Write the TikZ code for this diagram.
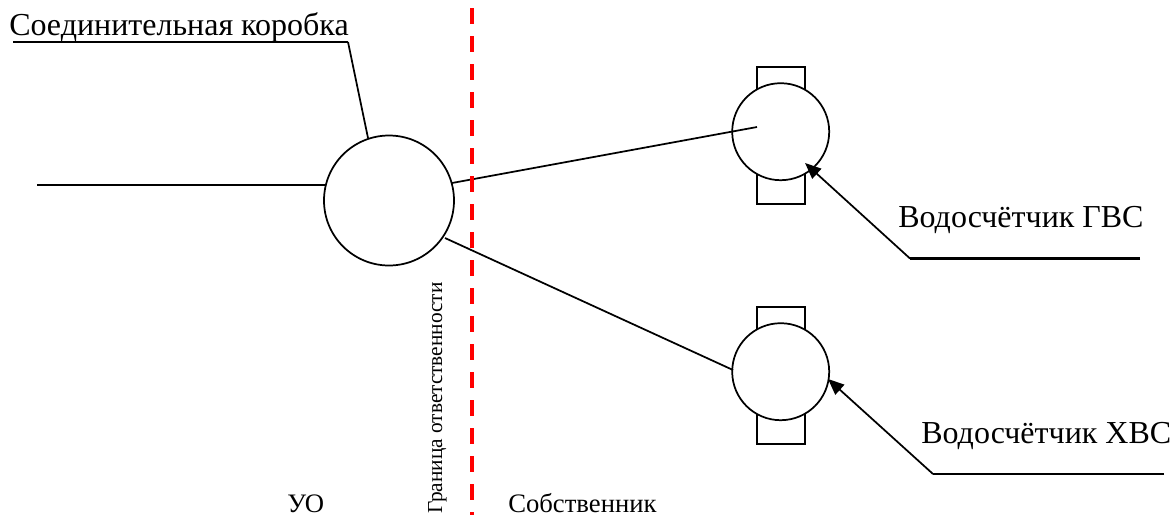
\documentclass[tikz,border=0pt]{standalone}
\usepackage{fontspec}
\setmainfont{Liberation Serif}
\usetikzlibrary{arrows.meta}
\tikzset{
  line/.style={draw=black,line width=1.3pt},
  leader/.style={draw=black,line width=1.9pt},
  circ/.style={circle,draw=black,line width=1.3pt,fill=white,inner sep=0pt},
  lbl/.style={inner sep=0pt,font=\fontsize{24pt}{26pt}\selectfont},
  sml/.style={inner sep=0pt,font=\fontsize{20pt}{22pt}\selectfont},
  tip/.style={-{Triangle[length=12pt,width=10pt]}}
}
\begin{document}
\begin{tikzpicture}[x=1pt,y=-1pt,xscale=0.75,yscale=0.75]
\useasboundingbox (0,0) rectangle (1172,515);
\fill[white] (0,0) rectangle (1172,515);
% meter bodies
\node[line,draw,minimum width=48.5*0.75pt,minimum height=137.5*0.75pt,inner sep=0pt] (m1) at (781,135.5) {};
\node[line,draw,minimum width=48.5*0.75pt,minimum height=137.5*0.75pt,inner sep=0pt] (m2) at (781,375.5) {};
\node[circ,minimum size=97*0.75pt] (c1) at (780.7,131.7) {};
\node[circ,minimum size=97*0.75pt] (c2) at (780.7,371.7) {};
\node[circ,minimum size=130*0.75pt] (j) at (389,200.5) {};
% coordinates
\coordinate (inL) at (37,185);
\coordinate (inE) at (326,185);
\coordinate (b1) at (452,183);
\coordinate (e1) at (757,127);
\coordinate (b2) at (445,238);
\coordinate (e2) at (733,370);
\coordinate (top1) at (348,42);
\coordinate (top0) at (13,42);
\coordinate (t1) at (368,138);
\coordinate (a1) at (910,258.5);
\coordinate (a1e) at (1140,258.5);
\coordinate (a1t) at (805,163);
\coordinate (a2) at (933,474);
\coordinate (a2e) at (1164,474);
\coordinate (a2t) at (828,379);
\coordinate (redT) at (472,8.3);
\coordinate (redB) at (472,515);
% connectors
\draw[line] (inL) -- (inE);
\draw[line] (b1) -- (e1);
\draw[line] (b2) -- (e2);
\draw[leader] (top0) -- (top1);
\draw[line] (top1) -- (t1);
\draw[leader] (a1e) -- (a1);
\draw[line,tip] (a1) -- (a1t);
\draw[leader] (a2e) -- (a2);
\draw[line,tip] (a2) -- (a2t);
\draw[red,line width=3pt,dash pattern=on 12pt off 9pt] (redT) -- (redB);
% labels
\node[lbl,anchor=base west] (t0) at (9,35) {Соединительная коробка};
\node[lbl,anchor=base west] (t2) at (898,227.5) {Водосчётчик ГВС};
\node[lbl,anchor=base west] (t3) at (921,443) {Водосчётчик ХВС};
\node[sml,anchor=base west] (t4) at (287,512) {УО};
\node[sml,anchor=base west] (t5) at (508,512) {Собственник};
\node[sml,anchor=base west,rotate=90,font=\fontsize{16pt}{18pt}\selectfont] (t6) at (442,514) {Граница ответственности};
\end{tikzpicture}
\end{document}
